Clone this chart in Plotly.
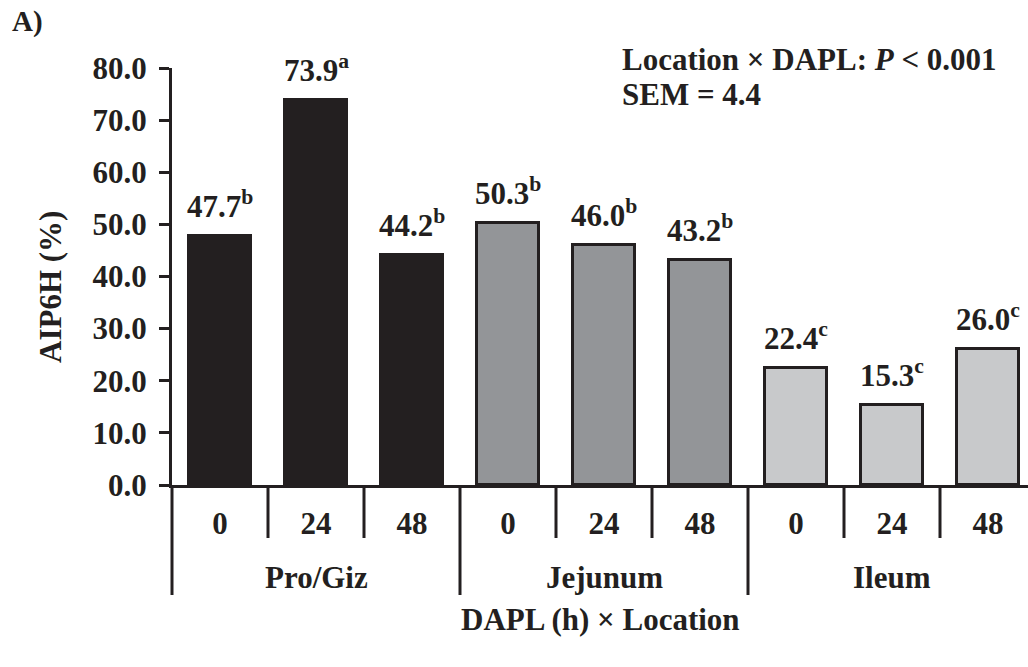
import plotly.graph_objects as go

# ---- data ----
locations = ["Pro/Giz", "Jejunum", "Ileum"]
hours = ["0", "24", "48", "0", "24", "48", "0", "24", "48"]
aip6h = [47.7, 73.9, 44.2, 50.3, 46.0, 43.2, 22.4, 15.3, 26.0]
letters = ["b", "a", "b", "b", "b", "b", "c", "c", "c"]
location_colors = ["#231f20", "#939598", "#c8c9cb"]
y_ticks = [0, 10, 20, 30, 40, 50, 60, 70, 80]
stat_line1 = "Location × DAPL: <i>P</i> &lt; 0.001"
stat_line2 = "SEM = 4.4"
panel_label = "A)"
y_title = "AIP6H (%)"
x_title = "DAPL (h) × Location"

INK = "#231f20"
FONT = "Times New Roman, Liberation Serif, serif"
FS = 31

n = len(aip6h)
per_group = len(hours) // len(locations)
xpos = list(range(n))
bar_colors = [location_colors[i // per_group] for i in xpos]

fig = go.Figure()
fig.add_trace(go.Bar(
    x=xpos, y=aip6h, width=0.64,
    marker=dict(color=bar_colors, line=dict(color=INK, width=3)),
    hoverinfo="skip", showlegend=False,
))

# value labels
for i, (v, l) in enumerate(zip(aip6h, letters)):
    fig.add_annotation(
        x=i, y=v, xref="x", yref="y", yanchor="bottom", yshift=10,
        text=f"<b>{v:.1f}<sup>{l}</sup></b>", showarrow=False,
        font=dict(family=FONT, size=FS, color=INK),
    )

# boundary ticks / dividers
plot_h = 667 - 68 - 182
inner_len = 53 / plot_h
group_len = 110 / plot_h
fig.add_shape(type="line", xref="paper", yref="paper", x0=0, x1=0, y0=0, y1=-group_len,
              line=dict(color=INK, width=3))
for i in range(n - 1):
    b = i + 0.5
    is_group = (i + 1) % per_group == 0
    fig.add_shape(type="line", xref="x", yref="paper", x0=b, x1=b, y0=0,
                  y1=-(group_len if is_group else inner_len),
                  line=dict(color=INK, width=3))

# group labels
for g, name in enumerate(locations):
    cx = g * per_group + (per_group - 1) / 2
    fig.add_annotation(
        x=cx, y=0, xref="x", yref="paper", yanchor="middle", yshift=-92,
        text=f"<b>{name}</b>", showarrow=False,
        font=dict(family=FONT, size=FS, color=INK),
    )

# axis title x
fig.add_annotation(x=0.5, y=0, xref="paper", yref="paper", yanchor="middle", yshift=-134,
                   text=f"<b>{x_title}</b>", showarrow=False,
                   font=dict(family=FONT, size=FS, color=INK))
# axis title y
fig.add_annotation(x=0, y=(485 - 287) / plot_h, xref="paper", yref="paper",
                   xanchor="center", yanchor="middle", xshift=-122, textangle=-90,
                   text=f"<b>{y_title}</b>", showarrow=False,
                   font=dict(family=FONT, size=FS, color=INK))
# panel label
fig.add_annotation(x=0, y=1, xref="paper", yref="paper", xanchor="left", yanchor="middle",
                   xshift=-162, yshift=47, text=f"<b>{panel_label}</b>", showarrow=False,
                   font=dict(family=FONT, size=29, color=INK))
# stats
for txt, ys in ((stat_line1, 68 - 59), (stat_line2, 68 - 94)):
    fig.add_annotation(x=(620 - 172) / 856, y=1, xref="paper", yref="paper",
                       xanchor="left", yanchor="middle", yshift=ys,
                       text=f"<b>{txt}</b>", showarrow=False,
                       font=dict(family=FONT, size=FS, color=INK))

fig.update_layout(
    width=1028, height=667,
    margin=dict(l=172, r=0, t=68, b=182),
    plot_bgcolor="white", paper_bgcolor="white",
    font=dict(family=FONT, size=FS, color=INK),
    bargap=0,
)
fig.update_xaxes(
    range=[-0.5, -0.5 + 856 / 96], tickvals=xpos,
    ticktext=[f"<b>{h}</b>" for h in hours],
    ticks="", showline=True, linecolor=INK, linewidth=3,
    showgrid=False, zeroline=False, ticklabelstandoff=9,
    tickfont=dict(family=FONT, size=FS, color=INK),
)
fig.update_yaxes(
    range=[0, 80], tickvals=y_ticks,
    ticktext=[f"<b>{t:.1f}</b>" for t in y_ticks],
    ticks="outside", ticklen=10, tickwidth=3, tickcolor=INK,
    showline=True, linecolor=INK, linewidth=3,
    showgrid=False, zeroline=False, ticklabelstandoff=6,
    tickfont=dict(family=FONT, size=FS, color=INK),
)

fig.write_html("out.html")
